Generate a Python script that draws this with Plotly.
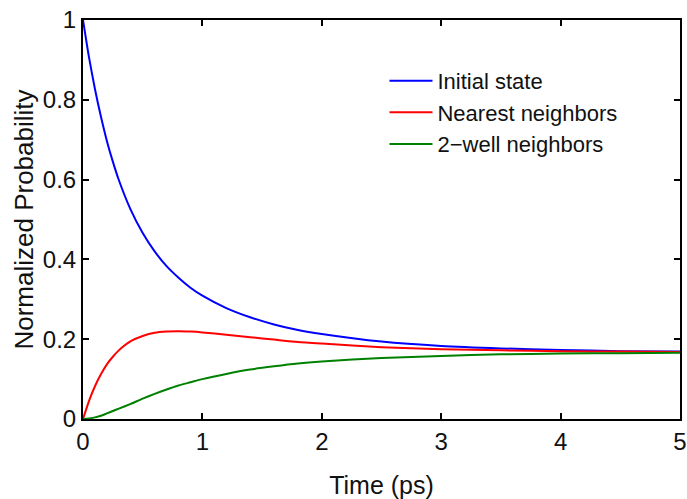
import plotly.graph_objects as go

time_ps = [0, 0.05, 0.1, 0.15, 0.2, 0.25, 0.3, 0.4, 0.5, 0.6, 0.7, 0.8, 0.9, 1.0,
           1.2, 1.4, 1.6, 1.8, 2.0, 2.5, 3.0, 3.5, 4.0, 4.5, 5.0]
initial_state = [1.0, 0.907, 0.827, 0.758, 0.697, 0.645, 0.599, 0.524, 0.466, 0.420,
                 0.383, 0.354, 0.329, 0.309, 0.278, 0.255, 0.237, 0.223, 0.213,
                 0.194, 0.183, 0.177, 0.173, 0.170, 0.169]
nearest_neighbors = [0.0, 0.045, 0.082, 0.112, 0.137, 0.156, 0.172, 0.195, 0.208, 0.216,
                     0.219, 0.220, 0.219, 0.217, 0.211, 0.205, 0.199, 0.193, 0.189,
                     0.180, 0.175, 0.172, 0.170, 0.169, 0.168]
two_well_neighbors = [0.0, 0.001, 0.004, 0.008, 0.014, 0.020, 0.026, 0.038, 0.051, 0.063,
                      0.074, 0.084, 0.092, 0.100, 0.113, 0.124, 0.132, 0.139, 0.144,
                      0.153, 0.158, 0.162, 0.164, 0.165, 0.166]

series_names = ["Initial state", "Nearest neighbors", "2\u2212well neighbors"]
series_colors = ["#0000ff", "#ff0000", "#008000"]
x_ticks = [0, 1, 2, 3, 4, 5]
y_ticks = [0, 0.2, 0.4, 0.6, 0.8, 1]
y_ticklabels = ["0", "0.2", "0.4", "0.6", "0.8", "1"]

FONT = "Liberation Sans, Arial, Helvetica, sans-serif"

fig = go.Figure()
for name, vals, col in zip(series_names,
                           [initial_state, nearest_neighbors, two_well_neighbors],
                           series_colors):
    fig.add_trace(go.Scatter(x=time_ps, y=vals, mode="lines", name=name,
                             line=dict(color=col, width=2, shape="spline", smoothing=0.6)))

axis_common = dict(showline=True, linecolor="black", linewidth=2, mirror="ticks",
                   ticks="inside", ticklen=6, tickwidth=1.5, tickcolor="black",
                   showgrid=False, zeroline=False, ticklabeloverflow="allow",
                   automargin=False,
                   tickfont=dict(family=FONT, size=24, color="#111111"))

fig.update_layout(
    width=687, height=499,
    margin=dict(l=83, r=7, t=20, b=80),
    paper_bgcolor="white", plot_bgcolor="white",
    font=dict(family=FONT, size=22, color="#111111"),
    xaxis=dict(range=[0, 5], tickvals=x_ticks, ticktext=[str(v) for v in x_ticks],
               title=dict(text="Time (ps)", font=dict(family=FONT, size=25), standoff=32),
               **axis_common),
    yaxis=dict(range=[0, 1], tickvals=y_ticks, ticktext=y_ticklabels,
               title=dict(text="Normalized Probability", font=dict(family=FONT, size=26), standoff=2),
               **axis_common),
    legend=dict(x=0.505, y=0.90, xanchor="left", yanchor="top",
                bgcolor="rgba(0,0,0,0)", borderwidth=0,
                font=dict(family=FONT, size=22, color="#111111"),
                itemwidth=43),
)

fig.write_html("out.html", config={"displayModeBar": False},
               post_script="document.body.style.margin='0';")
